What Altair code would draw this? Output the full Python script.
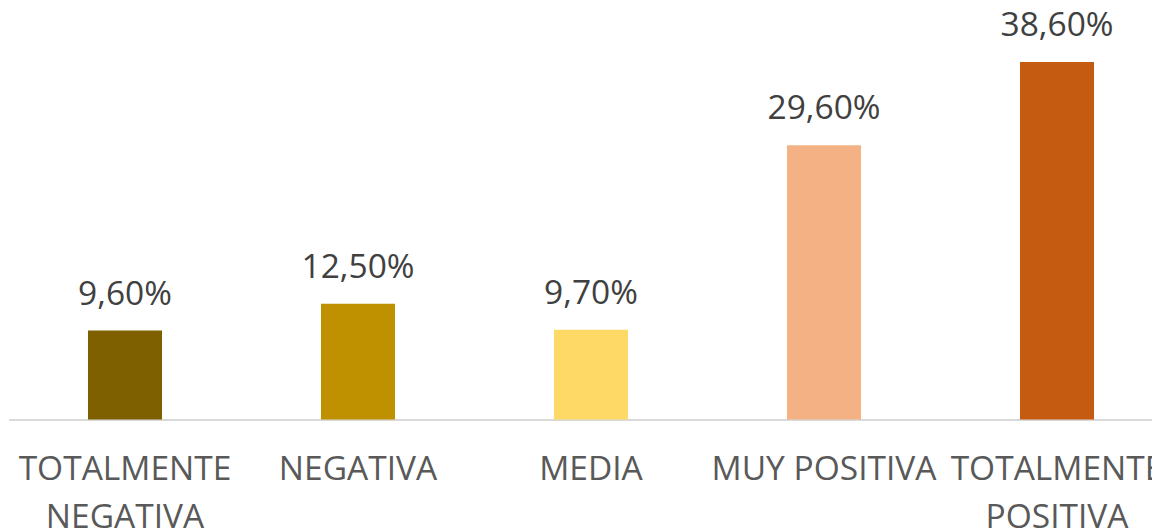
import altair as alt
import pandas as pd

categories = ["TOTALMENTE\nNEGATIVA", "NEGATIVA", "MEDIA", "MUY POSITIVA", "TOTALMENTE\nPOSITIVA"]
values = [9.6, 12.5, 9.7, 29.6, 38.6]
colors = ["#7F6000", "#BF9000", "#FFD966", "#F4B183", "#C55A11"]

df = pd.DataFrame({
    "cat": categories,
    "val": values,
    "label": [f"{v:.2f}".replace(".", ",") + "%" for v in values],
})

xscale = alt.Scale(paddingInner=0, paddingOuter=0)
x = alt.X("cat:N", sort=categories, title=None, scale=xscale,
          axis=alt.Axis(labelAngle=0, labelExpr="split(datum.label, '\\n')",
                        labelFontSize=33.5, labelFont="Open Sans", labelColor="#595959",
                        labelLineHeight=48, labelPadding=34, ticks=False,
                        domainColor="#d9d9d9", domainWidth=2, labelLimit=0,
                        labelOverlap=False, labelBound=False, labelFlush=False))
y = alt.Y("val:Q", scale=alt.Scale(domain=[0, 42], nice=False), axis=None)

bars = alt.Chart(df).mark_bar(size=74).encode(
    x=x, y=y,
    color=alt.Color("cat:N", sort=categories,
                    scale=alt.Scale(domain=categories, range=colors), legend=None),
)
text = alt.Chart(df).mark_text(baseline="alphabetic", dy=-26, fontSize=33.5,
                               font="Open Sans", color="#404040").encode(
    x=alt.X("cat:N", sort=categories, scale=xscale), y=y, text="label:N")

chart = alt.layer(bars, text).properties(
    width=1165, height=389,
    autosize=alt.AutoSizeParams(type="none"),
    padding={"left": 0.5, "top": 22.5, "right": -21.5, "bottom": 109.5},
).configure_view(stroke=None)

chart.save("out.html", embed_options={"renderer": "svg", "actions": False})
